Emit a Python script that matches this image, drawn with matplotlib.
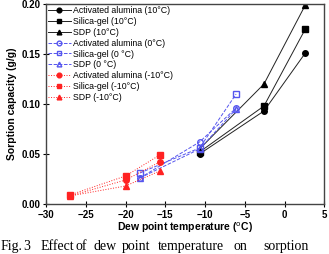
import matplotlib
matplotlib.use("Agg")
import matplotlib.pyplot as plt

plt.rcParams['font.family'] = ['Liberation Sans', 'DejaVu Sans']

# dew point temperatures (C)
x_10 = [-10.7, -2.6, 2.6]
x_0 = [-18.2, -10.7, -6.1]
x_m10 = [-27.0, -20.0, -15.7]

# sorption capacity (g/g)
aa_10 = [0.050, 0.093, 0.151]
sg_10 = [0.052, 0.098, 0.175]
sdp_10 = [0.055, 0.120, 0.199]

aa_0 = [0.026, 0.062, 0.096]
sg_0 = [0.031, 0.056, 0.110]
sdp_0 = [0.026, 0.055, 0.095]

aa_m10 = [0.008, 0.024, 0.042]
sg_m10 = [0.009, 0.028, 0.049]
sdp_m10 = [0.008, 0.018, 0.033]

caption_words = ['Fig.', '3', 'Effect', 'of', 'dew', 'point', 'temperature', 'on', 'sorption']
caption_x = [1, 23, 41, 75, 93, 122, 158, 233, 263]  # pixel positions

fig = plt.figure(figsize=(3.29, 2.54), dpi=100)
ax = fig.add_axes([0.14, 0.197, 0.846, 0.787])

blue = '#5555ee'
red = '#ff2222'
lw = 0.7
ms = 4

ax.plot(x_10, aa_10, '-o', color='#222222', mfc='black', mec='black', lw=lw, ms=ms, label='Activated alumina (10°C)')
ax.plot(x_10, sg_10, '-s', color='#222222', mfc='black', mec='black', lw=lw, ms=ms, label='Silica-gel (10°C)')
ax.plot(x_10, sdp_10, '-^', color='#222222', mfc='black', mec='black', lw=lw, ms=ms, label='SDP (10°C)')

ax.plot(x_0, aa_0, '--o', color=blue, mfc='none', mec=blue, lw=lw, ms=ms, label='Activated alumina (0°C)')
ax.plot(x_0, sg_0, '--s', color=blue, mfc='none', mec=blue, lw=lw, ms=ms, label='Silica-gel (0 °C)')
ax.plot(x_0, sdp_0, '--^', color=blue, mfc='none', mec=blue, lw=lw, ms=ms, label='SDP (0 °C)')

ax.plot(x_m10, aa_m10, ':o', color=red, mfc=red, mec=red, lw=lw, ms=ms, label='Activated alumina (-10°C)')
ax.plot(x_m10, sg_m10, ':s', color=red, mfc=red, mec=red, lw=lw, ms=ms, label='Silica-gel (-10°C)')
ax.plot(x_m10, sdp_m10, ':^', color=red, mfc=red, mec=red, lw=lw, ms=ms, label='SDP (-10°C)')

ax.set_xlim(-30, 5)
ax.set_ylim(0, 0.20)
ax.set_xticks(range(-30, 6, 5))
ax.set_yticks([0.00, 0.05, 0.10, 0.15, 0.20])
ax.set_yticklabels(['0.00', '0.05', '0.10', '0.15', '0.20'])
ax.tick_params(direction='inout', length=4, width=0.8, labelsize=7, pad=2)
for lab in ax.get_xticklabels() + ax.get_yticklabels():
    lab.set_fontweight('bold')
for s in ax.spines.values():
    s.set_linewidth(1.0)
    s.set_color('#444444')

ax.set_xlabel('Dew point temperature ($^{\\rm o}$C)', fontsize=7.5, fontweight='bold', labelpad=1)
ax.set_ylabel('Sorption capacity (g/g)', fontsize=7.5, fontweight='bold', labelpad=3)

ax.legend(loc='upper left', frameon=False, fontsize=6.3, handlelength=2.6,
          handletextpad=0.3, labelspacing=0.22, borderaxespad=0.1, borderpad=0.1,
          markerscale=0.85)

for w, px in zip(caption_words, caption_x):
    fig.text(px / 329, 1 - 240 / 254, w, family='Liberation Serif', fontsize=10,
             ha='left', va='top')

fig.savefig('out.png', dpi=100)
